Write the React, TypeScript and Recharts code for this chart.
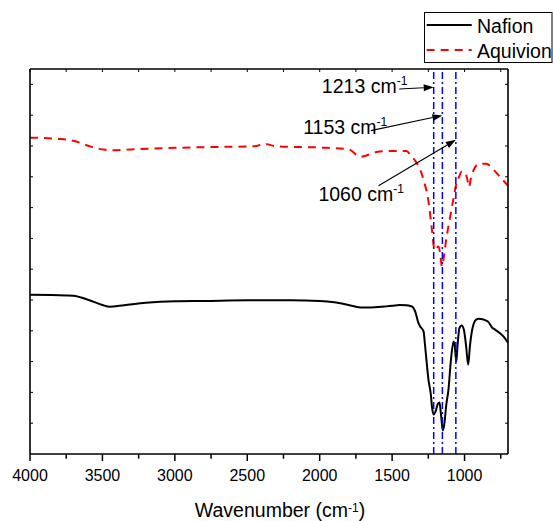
import React from 'react';
import { LineChart, Line, XAxis, YAxis, ReferenceLine, ReferenceDot, Legend } from 'recharts';

const FONT = "Arial, 'Liberation Sans', Helvetica, sans-serif";

// Nafion (black, solid)
const nafionWn = [4000, 3750, 3700, 3600, 3500, 3450, 3350, 3200, 3000, 2800, 2500, 2200, 2000, 1900, 1800, 1720, 1650, 1550, 1500, 1450, 1400, 1363, 1341, 1318, 1306, 1283, 1272, 1249, 1232, 1225, 1213, 1200, 1185, 1173, 1163, 1150, 1140, 1126, 1111, 1095, 1076, 1068, 1057, 1048, 1035, 1020, 1005, 990, 975, 962, 947, 920, 900, 850, 836, 809, 790, 760, 723, 700];
const nafionT = [5.17, 5.15, 5.14, 5.01, 4.84, 4.78, 4.83, 4.91, 4.96, 4.97, 4.99, 4.99, 4.97, 4.93, 4.84, 4.76, 4.76, 4.79, 4.81, 4.84, 4.83, 4.79, 4.63, 4.25, 4.14, 3.98, 3.49, 2.41, 1.9, 1.54, 1.28, 1.38, 1.62, 1.67, 1.3, 0.76, 0.96, 1.6, 2.09, 3.0, 3.65, 3.52, 3.0, 3.54, 4.1, 4.17, 4.04, 3.54, 2.9, 3.54, 4.04, 4.36, 4.39, 4.33, 4.29, 4.1, 4.04, 3.94, 3.77, 3.61];

// Aquivion (red, dashed)
const aquivionWn = [4000, 3800, 3700, 3600, 3500, 3450, 3300, 3000, 2700, 2450, 2380, 2300, 2000, 1800, 1720, 1600, 1500, 1400, 1375, 1329, 1300, 1283, 1249, 1225, 1207, 1180, 1168, 1156, 1140, 1127, 1099, 1076, 1060, 1040, 1020, 1000, 980, 970, 955, 940, 900, 850, 800, 750, 700];
const aquivionT = [10.27, 10.23, 10.17, 10.01, 9.89, 9.86, 9.89, 9.94, 9.97, 9.99, 10.07, 9.99, 9.95, 9.89, 9.65, 9.81, 9.84, 9.84, 9.71, 9.44, 9.15, 8.9, 8.2, 7.28, 6.63, 6.74, 6.5, 6.09, 6.5, 6.95, 7.71, 8.3, 8.7, 8.97, 9.16, 9.16, 8.9, 8.67, 8.97, 9.19, 9.42, 9.42, 9.23, 8.97, 8.71];

// Peak markers and annotations
const peakWn = [1213, 1153, 1060];
const peakLabels = ['1213 cm', '1153 cm', '1060 cm'];
const arrowFromWn = [1451, 1647, 1594];
const arrowFromY = [11.85, 10.5, 8.71];
const arrowToWn = [1213, 1153, 1060];
const arrowToY = [11.91, 10.99, 10.2];
const labelWn = [1985, 2114, 2009];
const labelY = [11.71, 10.39, 8.23];

// Axis ticks
const xTicks = [4000, 3750, 3500, 3250, 3000, 2750, 2500, 2250, 2000, 1750, 1500, 1250, 1000, 750];
const yTicks = [1, 2, 3, 4, 5, 6, 7, 8, 9, 10, 11, 12];

const nafionData = nafionWn.map((wn, i) => ({ wn, t: nafionT[i] }));
const aquivionData = aquivionWn.map((wn, i) => ({ wn, t: aquivionT[i] }));

const BottomTick = (props: any) => {
  const { x, y, payload } = props;
  const v = payload.value;
  const major = v % 500 === 0;
  return (
    <g>
      <line x1={x} x2={x} y1={y} y2={y + (major ? 7 : 4.7)} stroke="#000" strokeWidth={1.5} />
      {major && (
        <text x={x} y={y + 26.7} textAnchor="middle" fontSize={16} fontFamily={FONT} fill="#000">
          {v}
        </text>
      )}
    </g>
  );
};

const TitleLabel = (props: any) => {
  const vb = props.viewBox || { x: 30, y: 454, width: 478, height: 67 };
  const cx = vb.x + vb.width / 2 + 11;
  const by = vb.y + 62.5;
  return (
    <text x={cx} y={by} textAnchor="middle" fontSize={19.5} fontFamily={FONT} fill="#000">
      <tspan>Wavenumber (cm</tspan>
      <tspan dy={-5} fontSize={12}>-1</tspan>
      <tspan dy={5}>)</tspan>
    </text>
  );
};

const ArrowShape = (props: any) => {
  const { x1, y1, x2, y2 } = props;
  if ([x1, y1, x2, y2].some((v) => typeof v !== 'number' || isNaN(v))) return null;
  const dx = x2 - x1;
  const dy = y2 - y1;
  const len = Math.sqrt(dx * dx + dy * dy) || 1;
  const ux = dx / len;
  const uy = dy / len;
  const hl = 10;
  const hw = 3.5;
  const bx = x2 - ux * hl;
  const by = y2 - uy * hl;
  const pts = `${x2},${y2} ${bx - uy * hw},${by + ux * hw} ${bx + uy * hw},${by - ux * hw}`;
  return (
    <g>
      <line x1={x1} y1={y1} x2={bx} y2={by} stroke="#000" strokeWidth={1.1} />
      <polygon points={pts} fill="#000" />
    </g>
  );
};

const makeLabelShape = (text: string) => (props: any) => {
  const { cx, cy } = props;
  if (typeof cx !== 'number' || typeof cy !== 'number') return null;
  return (
    <text x={cx} y={cy} textAnchor="start" fontSize={19.5} fontFamily={FONT} fill="#000">
      <tspan>{text}</tspan>
      <tspan dy={-8} fontSize={12}>-1</tspan>
    </text>
  );
};

const LegendBox = () => (
  <svg width={130} height={52} style={{ display: 'block', overflow: 'visible' }}>
    <rect x={0.5} y={0.5} width={127.5} height={50} fill="#fff" stroke="#000" strokeWidth={1} />
    <line x1={2.7} x2={47.7} y1={13} y2={13} stroke="#000" strokeWidth={2} />
    <text x={53} y={20.7} fontSize={19.5} fontFamily={FONT} fill="#000">Nafion</text>
    <line x1={2.7} x2={47.7} y1={38} y2={38} stroke="#ff0000" strokeWidth={2} strokeDasharray="8 6" />
    <text x={53} y={45.5} fontSize={19.5} fontFamily={FONT} fill="#000">Aquivion</text>
  </svg>
);

export default function App() {
  return (
    <div style={{ position: 'absolute', left: 0, top: 0, width: 553, height: 521, background: '#fff' }}>
      <LineChart width={553} height={521} margin={{ top: 68, right: 44, bottom: 0, left: 29 }}>
        <XAxis
          type="number"
          dataKey="wn"
          domain={[700, 4000]}
          reversed
          allowDataOverflow
          ticks={xTicks}
          interval={0}
          height={67}
          tickSize={0}
          tickMargin={0}
          tickLine={false}
          axisLine={{ stroke: '#000', strokeWidth: 1.6 }}
          tick={<BottomTick />}
          label={{ content: TitleLabel }}
        />
        <XAxis
          xAxisId="top"
          orientation="top"
          type="number"
          dataKey="wn"
          domain={[700, 4000]}
          reversed
          allowDataOverflow
          ticks={xTicks}
          interval={0}
          height={1}
          tickSize={-3}
          tickLine={{ stroke: '#000', strokeWidth: 1 }}
          axisLine={{ stroke: '#000', strokeWidth: 1.6 }}
          tickFormatter={() => ''}
        />
        <YAxis
          type="number"
          domain={[0, 12.5]}
          allowDataOverflow
          ticks={yTicks}
          interval={0}
          width={1}
          tickSize={-3}
          tickLine={{ stroke: '#000', strokeWidth: 1 }}
          axisLine={{ stroke: '#000', strokeWidth: 1.6 }}
          tickFormatter={() => ''}
        />
        <YAxis
          yAxisId="right"
          orientation="right"
          type="number"
          domain={[0, 12.5]}
          allowDataOverflow
          ticks={yTicks}
          interval={0}
          width={1}
          tickSize={-3}
          tickLine={{ stroke: '#000', strokeWidth: 1 }}
          axisLine={{ stroke: '#000', strokeWidth: 1.6 }}
          tickFormatter={() => ''}
        />
        <Legend
          layout="vertical"
          align="center"
          verticalAlign="middle"
          wrapperStyle={{ position: 'absolute', left: 424, top: 12, width: 130, height: 52 }}
          content={() => <LegendBox />}
        />
        <Line
          data={nafionData}
          dataKey="t"
          name="Nafion"
          type="monotone"
          stroke="#000"
          strokeWidth={2}
          dot={false}
          isAnimationActive={false}
        />
        <Line
          data={aquivionData}
          dataKey="t"
          name="Aquivion"
          type="monotone"
          stroke="#ff0000"
          strokeWidth={2}
          strokeDasharray="8 6"
          dot={false}
          isAnimationActive={false}
        />
        {peakWn.map((wn) => (
          <ReferenceLine
            key={'p' + wn}
            x={wn}
            stroke="#0000ff"
            strokeWidth={1.5}
            strokeDasharray="7 3 2 3"
          />
        ))}
        {arrowFromWn.map((wn, i) => (
          <ReferenceLine
            key={'a' + i}
            segment={[
              { x: wn, y: arrowFromY[i] },
              { x: arrowToWn[i], y: arrowToY[i] },
            ]}
            ifOverflow="visible"
            shape={ArrowShape}
          />
        ))}
        {labelWn.map((wn, i) => (
          <ReferenceDot
            key={'l' + i}
            x={wn}
            y={labelY[i]}
            r={0}
            ifOverflow="visible"
            shape={makeLabelShape(peakLabels[i])}
          />
        ))}
      </LineChart>
    </div>
  );
}
